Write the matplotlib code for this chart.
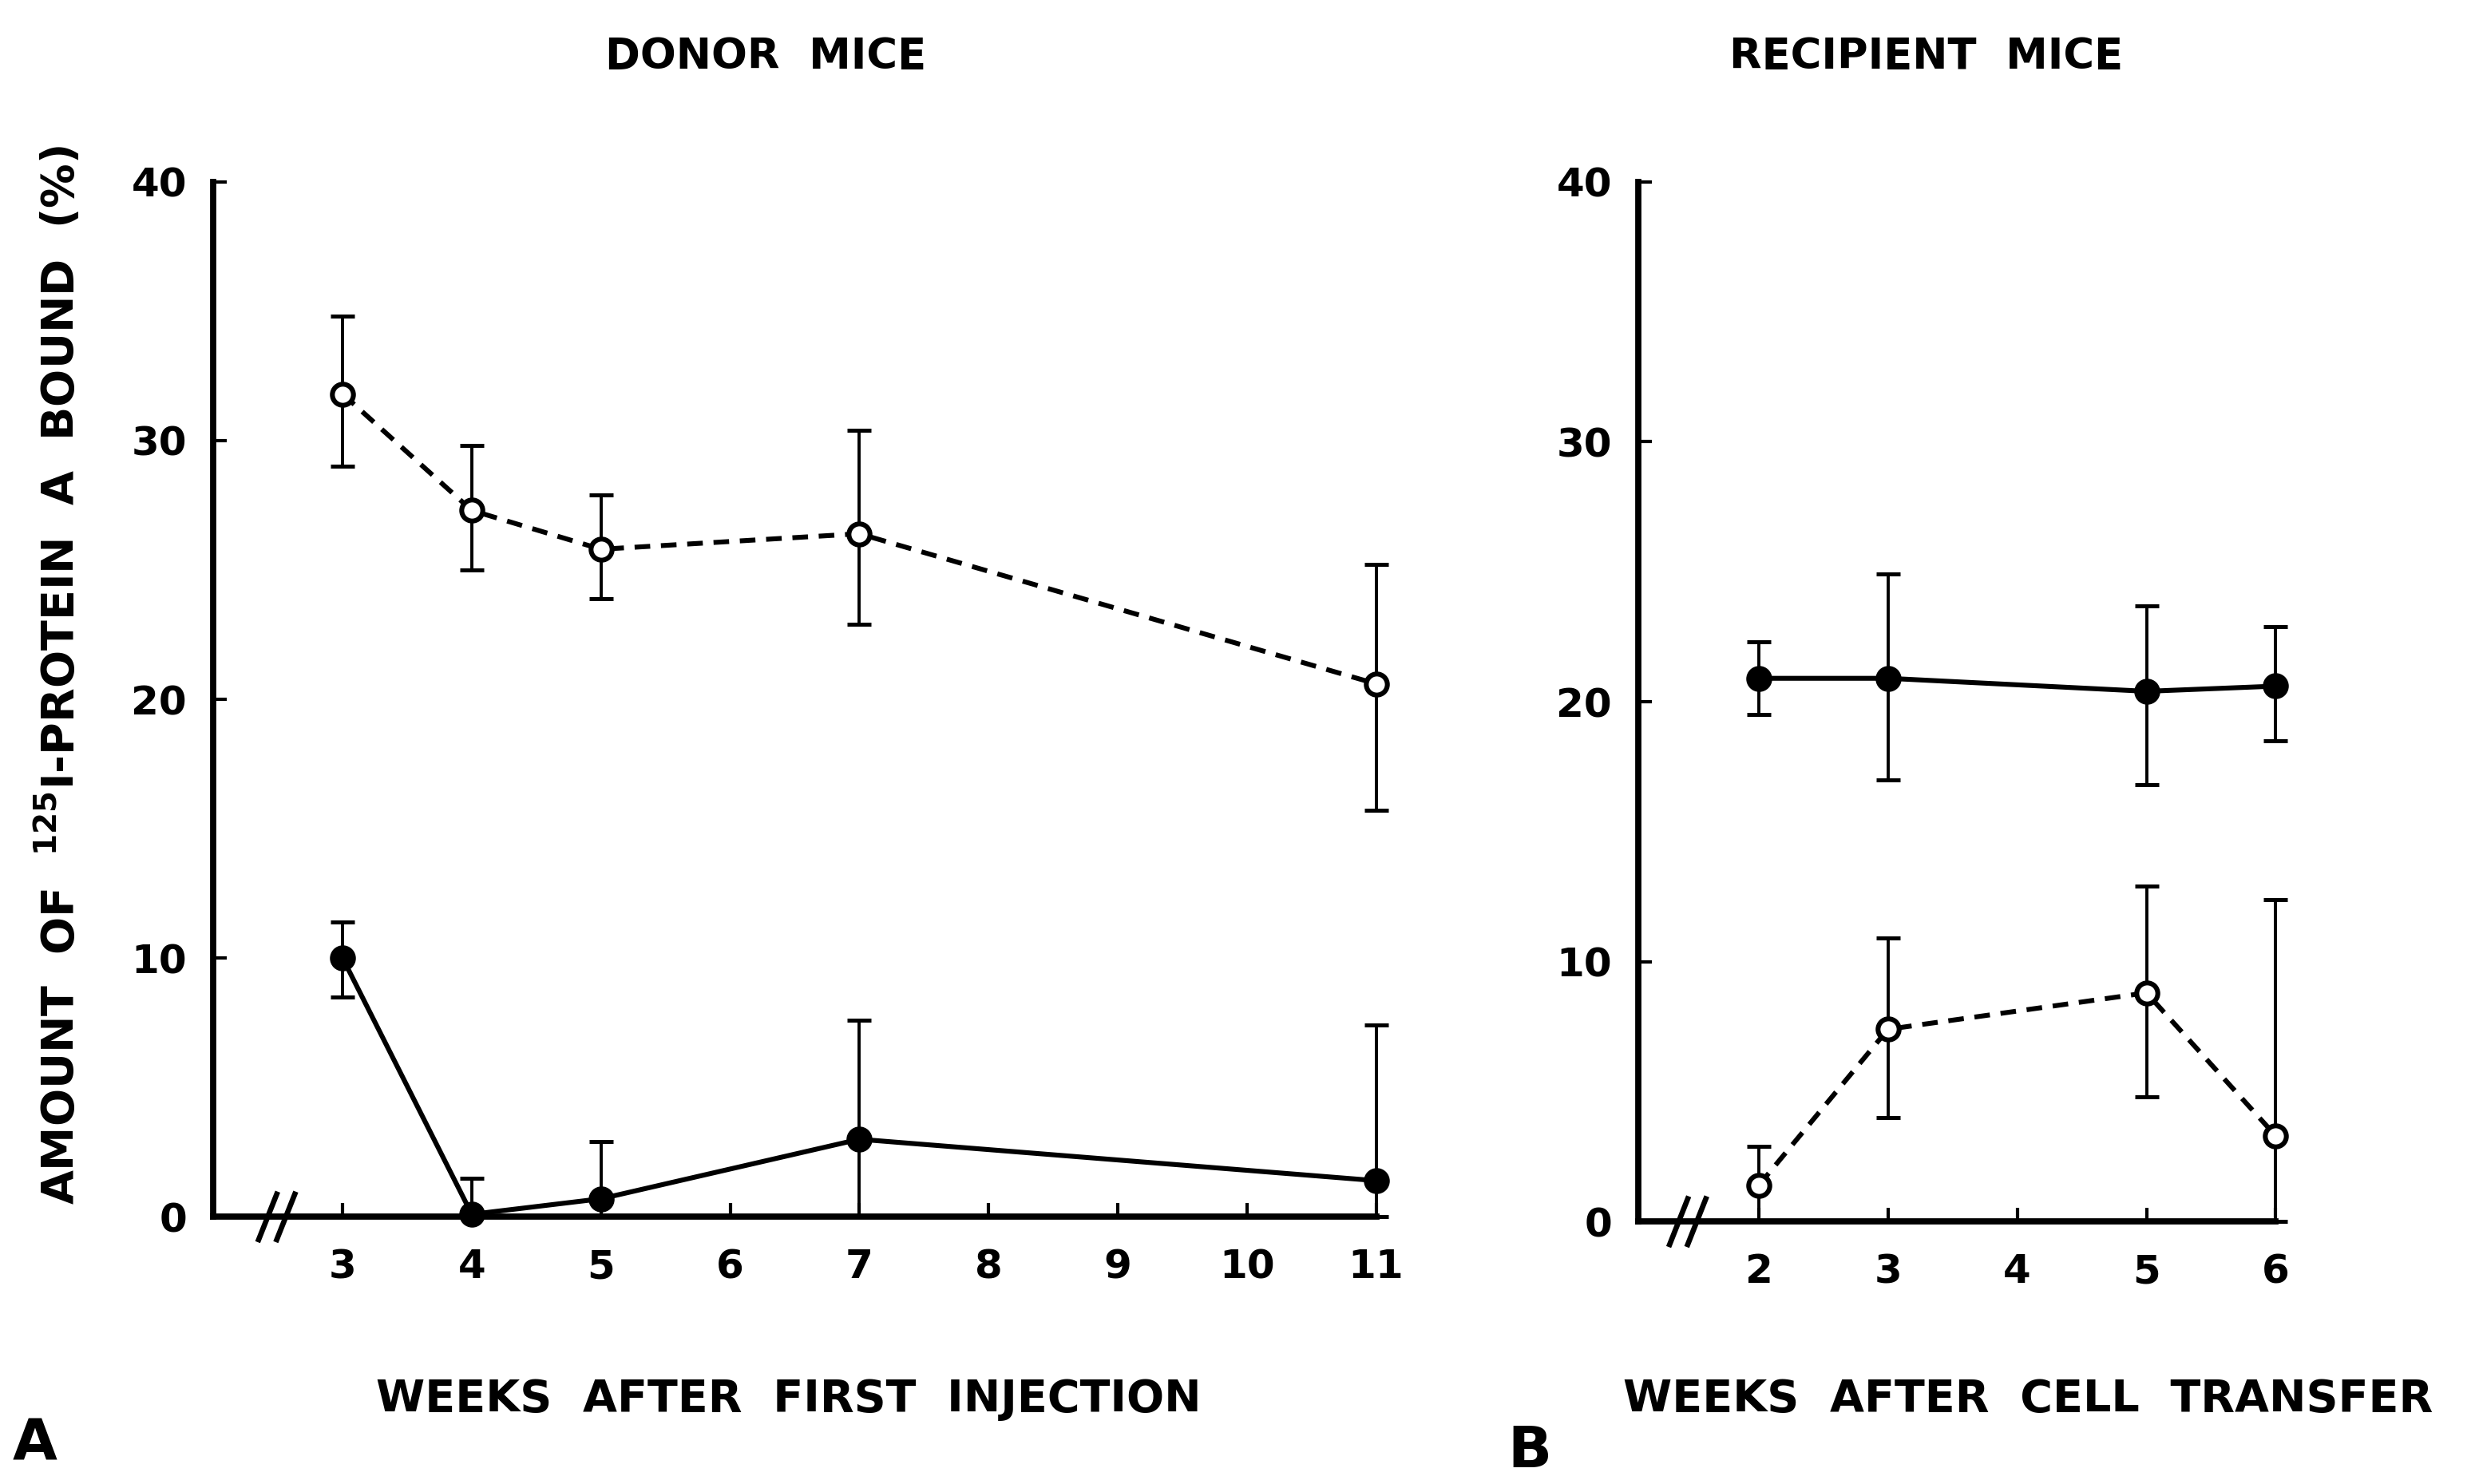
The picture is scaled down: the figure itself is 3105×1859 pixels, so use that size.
import matplotlib
matplotlib.use("Agg")
import matplotlib.pyplot as plt
from matplotlib.lines import Line2D

plt.rcParams['font.family'] = ['DejaVu Sans']
plt.rcParams['mathtext.default'] = 'regular'

# ---- Data: Panel A (donor mice) ----
weeks_a = [3, 4, 5, 7, 11]
open_a = [31.8, 27.3, 25.8, 26.4, 20.6]
open_a_lo = [29.0, 25.0, 23.9, 22.9, 15.7]
open_a_hi = [34.8, 29.8, 27.9, 30.4, 25.2]
filled_a = [10.0, 0.1, 0.7, 3.0, 1.4]
filled_a_lo = [8.5, 0.0, 0.0, 0.0, 0.0]
filled_a_hi = [11.4, 1.5, 2.9, 7.6, 7.4]
xticks_a = [3, 4, 5, 6, 7, 8, 9, 10, 11]

# ---- Data: Panel B (recipient mice) ----
weeks_b = [2, 3, 5, 6]
filled_b = [20.9, 20.9, 20.4, 20.6]
filled_b_lo = [19.5, 17.0, 16.8, 18.5]
filled_b_hi = [22.3, 24.9, 23.7, 22.9]
open_b = [1.4, 7.4, 8.8, 3.3]
open_b_lo = [0.0, 4.0, 4.8, 0.0]
open_b_hi = [2.9, 10.9, 12.9, 12.4]
xticks_b = [2, 3, 4, 5, 6]

yticks = [0, 10, 20, 30, 40]

fig = plt.figure(figsize=(15.525, 9.295), dpi=200)
axA = fig.add_axes([0.0861, 0.180, 0.469, 0.6975])
axB = fig.add_axes([0.661, 0.1768, 0.257, 0.7007])

narrow = dict(family=['DejaVu Sans'], fontweight='bold')


def draw_series(ax, x, y, lo, hi, filled, dashed):
    yerr = [[v - l for v, l in zip(y, lo)], [h - v for v, h in zip(y, hi)]]
    ax.errorbar(x, y, yerr=yerr, fmt='none', ecolor='black', elinewidth=1.4,
                capsize=5.5, capthick=1.8, clip_on=False, zorder=2)
    ls = (0, (3.2, 2.2)) if dashed else '-'
    ax.plot(x, y, linestyle=ls, color='black', lw=2.2, zorder=3, clip_on=False)
    ax.plot(x, y, linestyle='none', marker='o', markersize=9.5,
            markerfacecolor='black' if filled else 'white',
            markeredgecolor='black', markeredgewidth=2.2, zorder=4, clip_on=False)


def style(ax, xlim, xticks, brk):
    ax.set_xlim(*xlim)
    ax.set_ylim(0, 40)
    ax.set_xticks(xticks)
    ax.set_yticks(yticks)
    for s in ['top', 'right']:
        ax.spines[s].set_visible(False)
    for s in ['left', 'bottom']:
        ax.spines[s].set_linewidth(2.8)
    ax.tick_params(direction='in', length=6, width=1.5, labelsize=18, pad=14)
    ax.tick_params(axis='y', pad=12)
    for lab in ax.get_xticklabels() + ax.get_yticklabels():
        lab.set_fontweight('bold')
    # axis break "//"
    trans = ax.get_xaxis_transform()
    for dx in (-0.07, 0.07):
        ax.add_line(Line2D([brk + dx - 0.07, brk + dx + 0.07], [-0.022, 0.022],
                           transform=trans, color='black', lw=2.4, clip_on=False, zorder=5))


draw_series(axA, weeks_a, open_a, open_a_lo, open_a_hi, filled=False, dashed=True)
draw_series(axA, weeks_a, filled_a, filled_a_lo, filled_a_hi, filled=True, dashed=False)
style(axA, (2, 11), xticks_a, 2.49)

draw_series(axB, weeks_b, filled_b, filled_b_lo, filled_b_hi, filled=True, dashed=False)
draw_series(axB, weeks_b, open_b, open_b_lo, open_b_hi, filled=False, dashed=True)
style(axB, (1.07, 6), xticks_b, 1.45)

# Titles and labels
fig.text(0.309, 0.962, 'DONOR  MICE', ha='center', va='center', fontsize=19, **narrow)
fig.text(0.777, 0.962, 'RECIPIENT  MICE', ha='center', va='center', fontsize=19, **narrow)
fig.text(0.318, 0.057, 'WEEKS  AFTER  FIRST  INJECTION', ha='center', va='center', fontsize=20, **narrow)
fig.text(0.818, 0.057, 'WEEKS  AFTER  CELL  TRANSFER', ha='center', va='center', fontsize=20, **narrow)
fig.text(0.024, 0.545, 'AMOUNT  OF  $^{125}$I-PROTEIN  A  BOUND  (%)', rotation=90,
         ha='center', va='center', fontsize=20, **narrow)
fig.text(0.014, 0.027, 'A', ha='center', va='center', fontsize=26, **narrow)
fig.text(0.617, 0.022, 'B', ha='center', va='center', fontsize=26, **narrow)

fig.savefig('out.png', dpi=200, facecolor='white')
